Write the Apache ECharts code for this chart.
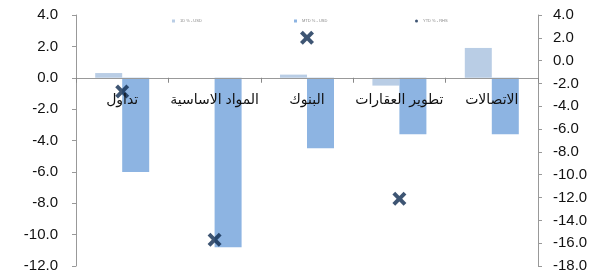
<!DOCTYPE html>
<html>
<head>
<meta charset="utf-8">
<script src="https://cdn.jsdelivr.net/npm/echarts@6/dist/echarts.min.js"></script>
<style>
  html, body { margin: 0; padding: 0; background: #fff; }
  #chart { width: 608px; height: 276px; }
</style>
</head>
<body>
<div id="chart"></div>
<script>
// sectors
const categories = ['تداول', 'المواد الاساسية', 'البنوك', 'تطوير العقارات', 'الاتصالات'];
const dayValues = [0.3, 0.0, 0.2, -0.5, 1.9];       // 1D % (left axis)
const mtdValues = [-6.0, -10.8, -4.5, -3.6, -3.6];  // MTD % (left axis)
const ytdValues = [-2.7, -15.7, 2.0, -12.1, null];  // YTD % (right axis)
const seriesNames = ['1D % - USD', 'MTD % - USD', 'YTD % - RHS'];

const font = 'Liberation Sans, Arial, DejaVu Sans, sans-serif';
const crossPath = 'path://M2,0 L5,3 L8,0 L10,2 L7,5 L10,8 L8,10 L5,7 L2,10 L0,8 L3,5 L0,2 Z';

let chart = echarts.init(document.getElementById('chart'), null, {renderer: 'canvas'});

function legendAt(name, left, icon) {
    return {
        data: [name],
        left: left,
        top: 14,
        itemWidth: 3,
        itemHeight: 3,
        itemGap: 2,
        icon: icon,
        textStyle: {fontSize: 4, color: '#888', fontFamily: font}
    };
}

let options = {
    animation: false,
    legend: [
        legendAt(seriesNames[0], 167, 'rect'),
        legendAt(seriesNames[1], 289, 'rect'),
        legendAt(seriesNames[2], 410, 'circle')
    ],
    grid: {left: 76, right: 70, top: 15, bottom: 10, outerBoundsMode: 'none', containLabel: false},
    xAxis: {
        type: 'category',
        data: categories,
        z: 10,
        axisLine: {onZero: false, lineStyle: {color: '#999', width: 1}},
        axisTick: {show: true, length: 5, lineStyle: {color: '#888'}},
        axisLabel: {interval: 0, margin: 15, fontSize: 14, color: '#111', fontFamily: font}
    },
    yAxis: [{
        type: 'value',
        min: -12, max: 4, interval: 2,
        axisLine: {show: true, lineStyle: {color: '#999'}},
        axisTick: {show: true, length: 4, lineStyle: {color: '#999'}},
        splitLine: {show: false},
        axisLabel: {margin: 18, fontSize: 15, color: '#111', fontFamily: font,
            formatter: v => v.toFixed(1)}
    }, {
        type: 'value',
        min: -18, max: 4, interval: 2,
        axisLine: {show: true, lineStyle: {color: '#999'}},
        axisTick: {show: true, length: 4, lineStyle: {color: '#999'}},
        splitLine: {show: false},
        axisLabel: {margin: 15, fontSize: 15, color: '#111', fontFamily: font,
            formatter: v => v.toFixed(1)}
    }],
    series: [{
        name: seriesNames[0],
        type: 'bar',
        data: dayValues,
        barWidth: 27,
        barGap: '0%',
        itemStyle: {color: '#b9cde5'}
    }, {
        name: seriesNames[1],
        type: 'bar',
        data: mtdValues,
        barWidth: 27,
        itemStyle: {color: '#8db4e2'}
    }, {
        name: seriesNames[2],
        type: 'scatter',
        yAxisIndex: 1,
        data: ytdValues,
        symbol: crossPath,
        symbolSize: 14,
        z: 5,
        itemStyle: {color: '#0e2a50'}
    }]
};

chart.setOption(options);

// move the category axis up to the left axis's zero line
let zeroY = chart.convertToPixel({yAxisIndex: 0}, 0);
let bottomY = chart.convertToPixel({yAxisIndex: 0}, -12);
chart.setOption({xAxis: {offset: zeroY - bottomY}});
</script>
</body>
</html>
